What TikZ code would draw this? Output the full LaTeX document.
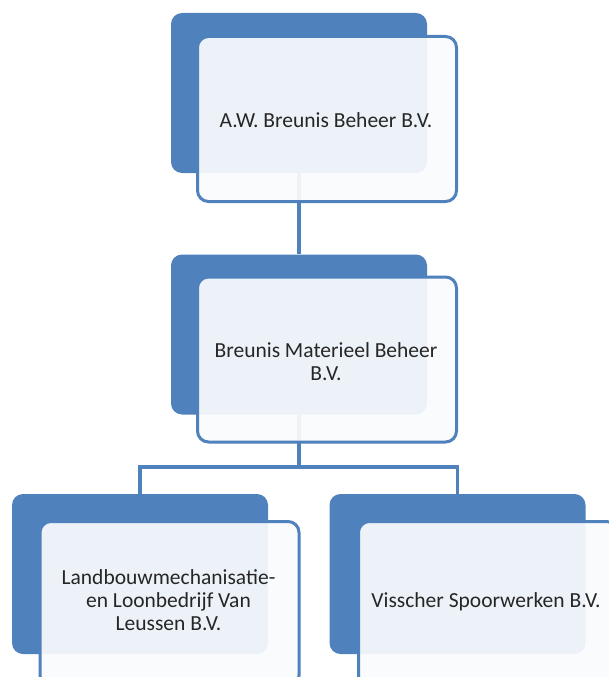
\documentclass[tikz,border=0pt]{standalone}
\usepackage{fontspec}
\setmainfont{Carlito}
\definecolor{darkblue}{HTML}{4F81BD}
\definecolor{paleblue}{RGB}{250,251,253}
\definecolor{txt}{HTML}{262626}
\tikzset{
  darkbox/.style={fill=darkblue, draw=none, rounded corners=11pt, minimum width=256pt, minimum height=160pt, inner sep=0pt},
  frontbox/.style={fill=paleblue, fill opacity=0.93, draw=darkblue, line width=3pt, rounded corners=11pt, minimum width=259pt, minimum height=165pt, inner sep=0pt},
  lbl/.style={align=center, text=txt, inner sep=0pt, font=\fontsize{21.5}{23}\selectfont},
  link/.style={draw=darkblue, line width=3.5pt}
}
\begin{document}
\begin{tikzpicture}[x=1pt,y=-1pt]
\useasboundingbox (0,0) rectangle (609,677);
\clip (0,0) rectangle (609,677);
\fill[white] (0,0) rectangle (609,677);
% back boxes
\node[darkbox] (d1) at (299,93) {};
\node[darkbox] (d2) at (299,334.5) {};
\node[darkbox] (d3) at (140,574) {};
\node[darkbox] (d4) at (457.5,574) {};
% connectors
\coordinate (bar) at (299,467);
\draw[link] (d1.south) -- (d2.north);
\draw[link] (d2.south) -- (bar) -| (d3.north);
\draw[link] (bar) -| (d4.north);
% front boxes
\node[frontbox] (f1) at (327,119) {};
\node[frontbox] (f2) at (327,359.5) {};
\node[frontbox] (f3) at (169.5,604) {};
\node[frontbox] (f4) at (488,604) {};
% texts
\node[lbl] (t1) at (326,120) {A.W. Breunis Beheer B.V.};
\node[lbl] (t2) at (326,361.5) {Breunis Materieel Beheer\\B.V.};
\node[lbl] (t3) at (168.5,600) {Landbouwmechanisatie-\\en Loonbedrijf Van\\Leussen B.V.};
\node[lbl] (t4) at (486,602) {Visscher Spoorwerken B.V.};
\end{tikzpicture}
\end{document}
